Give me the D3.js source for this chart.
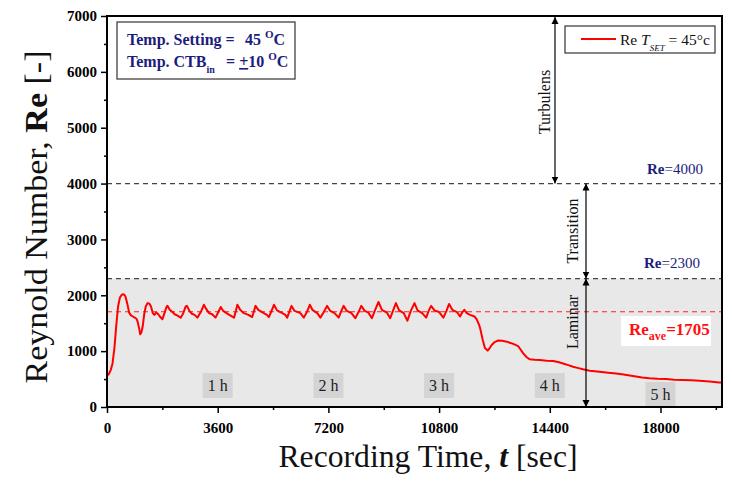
<!DOCTYPE html>
<html><head><meta charset="utf-8">
<script src="https://cdn.jsdelivr.net/npm/d3@7"></script>
<style>
html,body{margin:0;padding:0;background:#fff;}
svg{display:block;font-family:"Liberation Serif","Times New Roman",serif;}
</style></head>
<body><svg id="chart" width="732" height="481"></svg>
<script>
// ---- data ----
const timeSec = [0,60,120,180,240,300,360,420,480,540,600,660,720,780,840,900,960,1000,1040,1080,1120,1160,1210,1260,1320,1380,1430,1490,1540,1600,1650,1720,1800,1870,1940,1970,2040,2130,2200,2280,2400,2480,2560,2600,2680,2760,2850,2940,3050,3150,3220,3320,3420,3530,3620,3700,3780,3860,3950,4130,4190,4240,4330,4450,4600,4720,4780,4830,4920,5100,5200,5265,5350,5430,5530,5700,5800,5860,5940,6000,6100,6290,6400,6500,6595,6680,6835,6940,7050,7155,7260,7400,7535,7620,7695,7800,7950,8075,8180,8270,8380,8500,8615,8720,8830,8940,9100,9210,9300,9395,9500,9650,9770,9880,10000,10100,10250,10380,10460,10540,10650,10800,10940,11040,11125,11230,11380,11480,11560,11620,11700,11805,11950,12025,12100,12135,12180,12220,12290,12380,12450,12510,12600,12725,12850,13000,13100,13210,13370,13450,13535,13650,13750,13900,14075,14300,14510,14700,14830,15000,15155,15300,15480,15700,16020,16300,16560,16800,17100,17400,17640,17900,18185,18450,18720,19000,19265,19600,19910,20000];
const reValues = [560,590,660,780,1050,1450,1800,1960,2010,2020,1980,1850,1690,1640,1620,1600,1580,1520,1420,1300,1340,1440,1660,1800,1860,1850,1800,1680,1650,1690,1670,1620,1570,1680,1800,1810,1740,1700,1660,1640,1600,1680,1800,1810,1720,1670,1650,1600,1700,1830,1760,1680,1660,1600,1700,1790,1720,1690,1660,1600,1720,1830,1740,1680,1650,1610,1720,1810,1740,1680,1650,1610,1720,1830,1730,1680,1650,1600,1720,1810,1720,1680,1600,1700,1830,1740,1680,1600,1700,1810,1720,1680,1600,1720,1810,1720,1680,1590,1700,1810,1720,1690,1590,1740,1880,1740,1690,1590,1720,1860,1730,1680,1545,1720,1860,1730,1680,1600,1720,1810,1730,1700,1600,1720,1845,1740,1700,1620,1700,1740,1680,1650,1620,1570,1470,1410,1300,1200,1055,1010,1060,1110,1160,1190,1185,1170,1150,1130,1090,1030,960,890,854,845,840,830,825,800,780,750,720,700,675,650,630,615,600,580,555,530,515,505,500,490,485,478,470,455,440,440];
const yTicks = [0,1000,2000,3000,4000,5000,6000,7000];
const xTicks = [0,3600,7200,10800,14400,18000];
const hourLabels = ["1 h","2 h","3 h","4 h","5 h"];
const hourTimes = [3600,7200,10800,14400,18000];
const reTurbulent = 4000, reCritical = 2300, reAverage = 1705;

// ---- layout ----
const svg = d3.select("#chart");
const L = 107, R = 722, T = 16, B = 407;
const x = d3.scaleLinear().domain([0,20000]).range([L,R]);
const y = d3.scaleLinear().domain([0,7000]).range([B,T]);
const navy = "#1c1c7c";

const defs = svg.append("defs");
defs.append("marker").attr("id","arr").attr("viewBox","0 0 10 10").attr("refX",10).attr("refY",5)
  .attr("markerWidth",7).attr("markerHeight",10).attr("markerUnits","userSpaceOnUse").attr("orient","auto-start-reverse")
  .append("path").attr("d","M0,0 L10,5 L0,10 Z").attr("fill","#000");

// laminar background
svg.append("rect").attr("x",L).attr("y",y(reCritical)).attr("width",R-L).attr("height",B-y(reCritical)).attr("fill","#e8e8e8");

// threshold dashed lines
[reTurbulent,reCritical].forEach(v=>{
  svg.append("line").attr("x1",L).attr("x2",R).attr("y1",y(v)).attr("y2",y(v))
    .attr("stroke","#444").attr("stroke-width",1.3).attr("stroke-dasharray","5,4");
});
svg.append("line").attr("x1",L).attr("x2",R).attr("y1",y(reAverage)).attr("y2",y(reAverage))
  .attr("stroke","#ff2020").attr("stroke-width",1).attr("stroke-dasharray","5,4");

// hour boxes
hourTimes.forEach((t,i)=>{
  const top = i===4 ? 382 : 373;
  svg.append("rect").attr("x",x(t)-15).attr("y",top).attr("width",30).attr("height",25).attr("fill","#d4d4d4");
  svg.append("text").attr("x",x(t)).attr("y",top+18).attr("text-anchor","middle")
    .attr("font-size",16).attr("fill","#222").text(hourLabels[i]);
});

// Re_ave box
svg.append("rect").attr("x",621).attr("y",316).attr("width",90).attr("height",30).attr("fill","#fff");
const ta = svg.append("text").attr("x",629).attr("y",335).attr("font-size",17).attr("font-weight","bold").attr("fill","#ff1010");
ta.append("tspan").text("Re");
ta.append("tspan").attr("font-size",12).attr("dy",5).text("ave");
ta.append("tspan").attr("dy",-5).text("=1705");

// data line
const line = d3.line().x((d,i)=>x(timeSec[i])).y(d=>y(d));
svg.append("path").datum(reValues).attr("d",line).attr("fill","none").attr("stroke","#ff0000").attr("stroke-width",2).attr("stroke-linejoin","round");

// regime arrows
function vArrow(xp, y1, y2){
  svg.append("line").attr("x1",xp).attr("x2",xp).attr("y1",y1).attr("y2",y2)
    .attr("stroke","#000").attr("stroke-width",1.2)
    .attr("marker-start","url(#arr)").attr("marker-end","url(#arr)");
}
vArrow(555, y(7000)+1, y(reTurbulent));
vArrow(586, y(reTurbulent), y(reCritical));
vArrow(586, y(reCritical), B);
function vText(xp, yp, s){
  svg.append("text").attr("transform",`translate(${xp},${yp}) rotate(-90)`).attr("text-anchor","middle")
    .attr("font-size",16).attr("fill","#111").text(s);
}
vText(550, 102, "Turbulens");
vText(578, 231, "Transition");
vText(578, 322, "Laminar");

// Re threshold labels
function reLabel(xp, yp, val){
  const t = svg.append("text").attr("x",xp).attr("y",yp).attr("font-size",15).attr("fill",navy);
  t.append("tspan").attr("font-weight","bold").text("Re");
  t.append("tspan").text("="+val);
}
reLabel(647, 174, reTurbulent);
reLabel(644, 268, reCritical);

// axes
const yAxis = d3.axisLeft(y).tickValues(yTicks).tickSize(6).tickPadding(4).tickFormat(d3.format("d"));
const yMinor = d3.axisLeft(y).tickValues(d3.range(500,7000,1000)).tickSize(3).tickFormat("");
const xAxis = d3.axisBottom(x).tickValues(xTicks).tickSize(6).tickPadding(9).tickFormat(d3.format("d"));
const xMinor = d3.axisBottom(x).tickValues(d3.range(1800,20000,3600)).tickSize(3).tickFormat("");
function styleAx(g){
  g.select(".domain").remove();
  g.selectAll("line").attr("stroke","#000").attr("stroke-width",1.5);
  g.selectAll("text").attr("font-family","Liberation Serif").attr("font-weight","bold").attr("font-size",15).attr("fill","#000");
}
svg.append("g").attr("transform",`translate(${L},0)`).call(yAxis).call(styleAx);
svg.append("g").attr("transform",`translate(${L},0)`).call(yMinor).call(styleAx);
svg.append("g").attr("transform",`translate(0,${B})`).call(xAxis).call(styleAx);
svg.append("g").attr("transform",`translate(0,${B})`).call(xMinor).call(styleAx);

// frame
svg.append("rect").attr("x",L).attr("y",T).attr("width",R-L).attr("height",B-T).attr("fill","none").attr("stroke","#000").attr("stroke-width",2);

// info box
svg.append("rect").attr("x",117).attr("y",22).attr("width",178).attr("height",57).attr("fill","#fff").attr("stroke","#333").attr("stroke-width",1.2);
const i1 = svg.append("text").attr("x",127).attr("y",45).attr("font-size",16).attr("font-weight","bold").attr("fill",navy);
i1.append("tspan").text("Temp. Setting =");
i1.append("tspan").attr("x",245).text("45 ");
i1.append("tspan").attr("font-size",11).attr("dy",-7).text("O");
i1.append("tspan").attr("dy",7).text("C");
const i2 = svg.append("text").attr("x",127).attr("y",67).attr("font-size",16).attr("font-weight","bold").attr("fill",navy);
i2.append("tspan").text("Temp. CTB");
i2.append("tspan").attr("font-size",10).attr("dy",6).text("in");
i2.append("tspan").attr("x",226).attr("dy",-6).text("= ");
i2.append("tspan").attr("text-decoration","underline").text("+");
i2.append("tspan").text("10 ");
i2.append("tspan").attr("font-size",11).attr("dy",-7).text("O");
i2.append("tspan").attr("dy",7).text("C");

// legend
svg.append("rect").attr("x",565).attr("y",26).attr("width",150).attr("height",27).attr("fill","#fff").attr("stroke","#333").attr("stroke-width",1.2);
svg.append("line").attr("x1",581).attr("x2",616).attr("y1",39).attr("y2",39).attr("stroke","#ff0000").attr("stroke-width",2);
const lg = svg.append("text").attr("x",620).attr("y",45).attr("font-size",15.5).attr("fill","#111");
lg.append("tspan").text("Re ");
lg.append("tspan").attr("font-style","italic").text("T");
lg.append("tspan").attr("font-style","italic").attr("font-size",9).attr("dy",6).text("SET");
lg.append("tspan").attr("dy",-6).text(" = 45°c");

// axis titles
const yt = svg.append("text").attr("transform","translate(47,217) rotate(-90)").attr("text-anchor","middle").attr("font-size",31).attr("fill","#111")
  .attr("textLength",333).attr("lengthAdjust","spacingAndGlyphs");
yt.append("tspan").text("Reynold Number, ");
yt.append("tspan").attr("font-weight","bold").text("Re");
yt.append("tspan").text(" [-]");
const xt = svg.append("text").attr("x",428).attr("y",467).attr("text-anchor","middle").attr("font-size",31).attr("fill","#111")
  .attr("textLength",299).attr("lengthAdjust","spacingAndGlyphs");
xt.append("tspan").text("Recording Time, ");
xt.append("tspan").attr("font-weight","bold").attr("font-style","italic").text("t");
xt.append("tspan").text(" [sec]");
</script></body></html>
